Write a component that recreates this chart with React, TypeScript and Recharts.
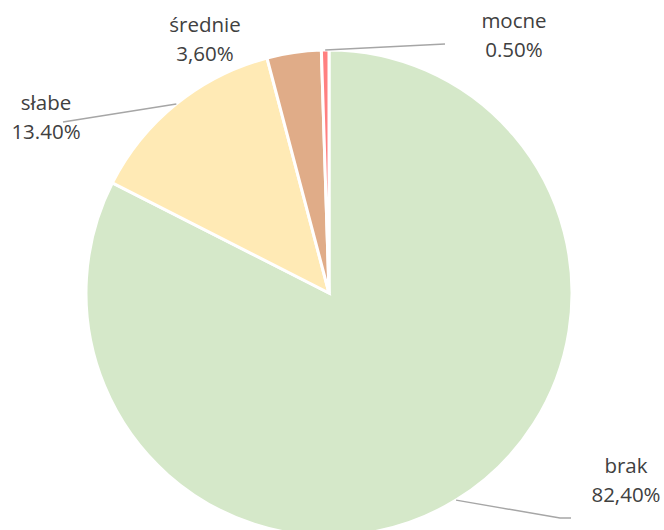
import { PieChart, Pie, Cell } from 'recharts'

// ── Data ─────────────────────────────────────────────────────────────────────

const CATEGORIES = ['brak', 'słabe', 'średnie', 'mocne']
const VALUES = [82.4, 13.4, 3.6, 0.5]
const VALUE_LABELS = ['82,40%', '13.40%', '3,60%', '0.50%']
const COLORS = ['#D5E8C9', '#FFEAB5', '#E0AC88', '#FF8080']

const data = CATEGORIES.map((name, i) => ({ name, value: VALUES[i] }))

// ── Label layout (text centre, first baseline, leader line bends) ────────────

const LABEL_LAYOUT = [
  { x: 626, y: 473, line: [[560, 518], [571, 518]] },
  { x: 46, y: 110, line: [[63, 122]] },
  { x: 205, y: 32, line: [] },
  { x: 514, y: 28, line: [[445, 44]] },
]

const RAD = Math.PI / 180
const TEXT_COLOR = '#404040'
const LINE_COLOR = '#A6A6A6'

function renderLabel(props: any) {
  const { cx, cy, midAngle, outerRadius, index } = props
  const layout = LABEL_LAYOUT[index]
  const sx = cx + outerRadius * Math.cos(-midAngle * RAD)
  const sy = cy + outerRadius * Math.sin(-midAngle * RAD)
  const pts = [[sx, sy], ...layout.line]
  return (
    <g key={`lbl-${index}`}>
      {layout.line.length > 0 && (
        <polyline
          points={pts.map((p) => p.join(',')).join(' ')}
          fill="none"
          stroke={LINE_COLOR}
          strokeWidth={1.5}
        />
      )}
      <text
        x={layout.x}
        y={layout.y}
        textAnchor="middle"
        fill={TEXT_COLOR}
        fontSize={20.5}
        fontFamily="'Open Sans', sans-serif"
      >
        <tspan x={layout.x} dy={0}>{CATEGORIES[index]}</tspan>
        <tspan x={layout.x} dy={29}>{VALUE_LABELS[index]}</tspan>
      </text>
    </g>
  )
}

// ── Component ────────────────────────────────────────────────────────────────

export default function App() {
  return (
    <div style={{ position: 'absolute', left: 0, top: 0, width: 664, height: 530, background: '#fff', overflow: 'hidden' }}>
      <PieChart width={664} height={530} margin={{ top: 0, right: 0, bottom: 0, left: 0 }}>
        <Pie
          data={data}
          dataKey="value"
          nameKey="name"
          cx={329}
          cy={293}
          outerRadius={243}
          startAngle={90}
          endAngle={-270}
          stroke="#fff"
          strokeWidth={3}
          label={renderLabel}
          labelLine={false}
          isAnimationActive={false}
        >
          {data.map((d, i) => (
            <Cell key={d.name} fill={COLORS[i]} />
          ))}
        </Pie>
      </PieChart>
    </div>
  )
}
